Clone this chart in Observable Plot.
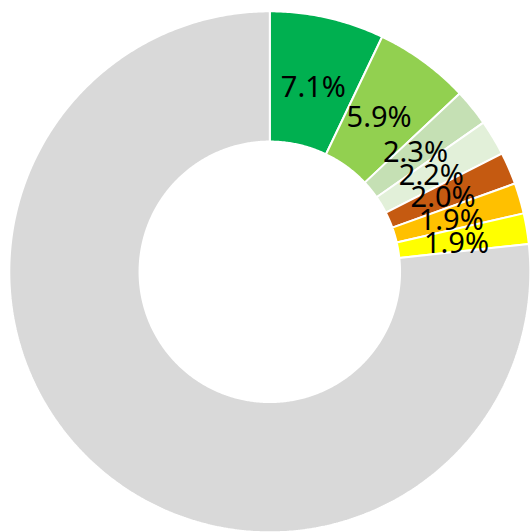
<!DOCTYPE html>
<html>
<head>
<meta charset="utf-8">
<script src="https://cdn.jsdelivr.net/npm/d3@7"></script>
<script src="https://cdn.jsdelivr.net/npm/@observablehq/plot@0.6"></script>
<style>
  html, body { margin: 0; padding: 0; background: #ffffff; }
  #chart { width: 531px; height: 532px; }
</style>
</head>
<body>
<div id="chart"></div>
<script>
// ---- data ----
const categories = ["A", "B", "C", "D", "E", "F", "G", "Other"];
const values = [7.1, 5.9, 2.3, 2.2, 2.0, 1.9, 1.9, 76.7];
const labels = ["7.1%", "5.9%", "2.3%", "2.2%", "2.0%", "1.9%", "1.9%", ""];
const colors = ["#00B050", "#92D050", "#C5E0B4", "#E2F0D9", "#C55A11", "#FFC000", "#FFFF00", "#D9D9D9"];

// ---- geometry (in data units; outer radius = 1) ----
const outerR = 1, innerR = 0.5, labelR = 0.75;
const fontSize = 29, fontFamily = "'Noto Sans', 'Open Sans', sans-serif";

const rows = categories.map((c, i) => ({ key: c, value: values[i], label: labels[i], color: colors[i] }));
const arcs = d3.pie().sort(null).value(d => d.value)(rows);

const pts = [];
for (const a of arcs) {
  const n = Math.max(4, Math.ceil((a.endAngle - a.startAngle) / (Math.PI / 360)));
  const poly = [];
  for (let k = 0; k <= n; k++) {
    const t = a.startAngle + (a.endAngle - a.startAngle) * k / n;
    poly.push([outerR * Math.sin(t), outerR * Math.cos(t)]);
  }
  for (let k = n; k >= 0; k--) {
    const t = a.startAngle + (a.endAngle - a.startAngle) * k / n;
    poly.push([innerR * Math.sin(t), innerR * Math.cos(t)]);
  }
  poly.push(poly[0]);
  for (const [x, y] of poly) pts.push({ key: a.data.key, color: a.data.color, x, y });
}

// label positions: mid angle, mid radius; keep label clear of the 12 o'clock edge
const pxPerUnit = 260.5;
const ctx = document.createElement("canvas").getContext("2d");
ctx.font = `${fontSize}px ${fontFamily}`;
const labelRows = arcs.filter(a => a.data.label).map(a => {
  const m = (a.startAngle + a.endAngle) / 2;
  let x = labelR * Math.sin(m), y = labelR * Math.cos(m);
  const w = ctx.measureText(a.data.label).width / pxPerUnit;
  const minX = (a.startAngle === 0 ? 0 : -Infinity) + 11 / pxPerUnit + w / 2;
  if (x - 6 / pxPerUnit < minX) { x = minX + 6 / pxPerUnit; y -= 2 / pxPerUnit; }
  return { x, y, label: a.data.label };
});

const cx = 269.3, cy = 271.3;
const chart = Plot.plot({
  width: 531,
  height: 532,
  margin: 0,
  x: { domain: [-1, 1], range: [cx - pxPerUnit, cx + pxPerUnit], axis: null },
  y: { domain: [-1, 1], range: [cy + pxPerUnit, cy - pxPerUnit], axis: null },
  color: { type: "identity" },
  style: { background: "#ffffff" },
  marks: [
    Plot.line(pts, { x: "x", y: "y", z: "key", fill: "color", stroke: "#ffffff", strokeWidth: 2, strokeLinejoin: "miter" }),
    Plot.text(labelRows, { x: "x", y: "y", text: "label", fontSize, fontFamily, fill: "#000000", dx: -6, dy: 4 })
  ]
});
document.getElementById("chart").appendChild(chart);
</script>
</body>
</html>
